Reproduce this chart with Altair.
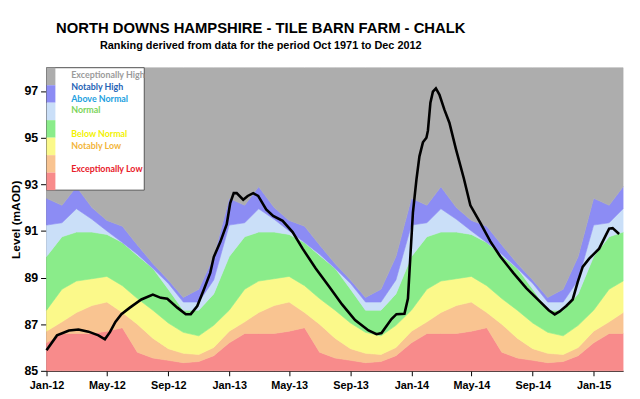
import altair as alt
import pandas as pd

# ---------------- data ----------------
# monthly ranking thresholds (upper edge of each band), Jan..Dec
red_top = [86.2, 86.6, 86.6, 86.6, 86.7, 86.85, 85.8, 85.55, 85.45, 85.35, 85.4, 85.65]
orange_top = [86.7, 87.1, 87.5, 87.8, 87.95, 87.5, 87.0, 86.4, 85.95, 85.75, 85.7, 86.0]
yellow_top = [87.6, 88.5, 88.85, 88.95, 89.05, 88.65, 88.1, 87.6, 87.05, 86.65, 86.5, 86.95]
green_top = [89.9, 90.75, 90.95, 90.95, 90.85, 90.5, 89.95, 89.4, 88.5, 87.6, 87.6, 88.3]
lblue_top = [91.25, 91.35, 91.95, 91.5, 91.0, 90.5, 90.0, 89.4, 88.75, 87.95, 87.95, 88.9]
blue_top = [92.4, 92.1, 92.9, 92.0, 91.45, 91.2, 90.4, 89.6, 88.9, 88.15, 88.5, 89.9]

categories = ["Exceptionally Low", "Notably Low", "Below Normal", "Normal",
              "Above Normal", "Notably High", "Exceptionally High"]
band_colors = ["#F88B8B", "#F9C491", "#FBF98A", "#8AEC8A", "#CADFF8", "#8C8CF4", "#ADADAD"]

line_dates = [
    "2012-01-01", "2012-01-22", "2012-02-15", "2012-03-05", "2012-03-25", "2012-04-14",
    "2012-04-27", "2012-05-07", "2012-05-18", "2012-05-30", "2012-06-16", "2012-07-09",
    "2012-08-01", "2012-08-17", "2012-08-30", "2012-09-19", "2012-10-06", "2012-10-16",
    "2012-10-29", "2012-11-11", "2012-11-24", "2012-12-01", "2012-12-14", "2012-12-27",
    "2013-01-03", "2013-01-10", "2013-01-16", "2013-01-29", "2013-02-07", "2013-02-18",
    "2013-02-28", "2013-03-16", "2013-03-30", "2013-04-18", "2013-05-08", "2013-05-28",
    "2013-06-23", "2013-07-20", "2013-08-15", "2013-09-10", "2013-10-07", "2013-10-23",
    "2013-11-02", "2013-11-22", "2013-12-02", "2013-12-18", "2013-12-25", "2013-12-29",
    "2014-01-04", "2014-01-11", "2014-01-17", "2014-01-24", "2014-01-31", "2014-02-03",
    "2014-02-08", "2014-02-13", "2014-02-19", "2014-02-26", "2014-03-08", "2014-03-18",
    "2014-03-31", "2014-04-16", "2014-04-29", "2014-05-19", "2014-06-08", "2014-06-28",
    "2014-07-24", "2014-08-19", "2014-09-14", "2014-10-03", "2014-10-15", "2014-10-25",
    "2014-11-07", "2014-11-20", "2014-11-30", "2014-12-10", "2014-12-23", "2015-01-12",
    "2015-01-25", "2015-02-01", "2015-02-08", "2015-02-21",
]
line_levels = [
    85.88, 86.52, 86.73, 86.77, 86.68, 86.52,
    86.35, 86.66, 87.10, 87.43, 87.71, 88.06,
    88.27, 88.13, 88.09, 87.71, 87.43, 87.43,
    87.78, 88.48, 89.20, 89.88, 90.52, 91.29,
    92.20, 92.62, 92.62, 92.34, 92.50, 92.62,
    92.50, 91.92, 91.64, 91.43, 90.95, 90.24,
    89.40, 88.62, 87.85, 87.18, 86.73, 86.57,
    86.62, 87.22, 87.43, 87.45, 88.10, 89.60,
    91.80, 93.20, 94.20, 94.80, 95.00, 95.30,
    96.50, 96.97, 97.11, 96.85, 96.20, 95.64,
    94.52, 93.25, 92.10, 91.35, 90.55, 89.90,
    89.20, 88.55, 88.00, 87.60, 87.42, 87.55,
    87.78, 88.06, 88.80, 89.46, 89.81, 90.24,
    90.80, 91.10, 91.12, 90.87,
]

legend_slots = ["Exceptionally High", "Notably High", "Above Normal", "Normal", " ",
                "Below Normal", "Notably Low", "  ", "Exceptionally Low"]
legend_labels = ["Exceptionally High", "Notably High", "Above Normal", "Normal",
                 "Below Normal", "Notably Low", "Exceptionally Low"]
legend_text_colors = ["#9B9B9B", "#2563B5", "#22A0E0", "#7CD45A", "#F2F200", "#F2B53A", "#E8202A"]

y_ticks = [85, 87, 89, 91, 93, 95, 97]

# ---------------- tables ----------------
months = pd.date_range("2012-01-01", "2015-03-01", freq="MS")
rows = []
for m in months:
    k = m.month - 1
    edges = [85.0, red_top[k], orange_top[k], yellow_top[k], green_top[k],
             lblue_top[k], blue_top[k], 98.0]
    for j, c in enumerate(categories):
        rows.append({"date": m.strftime("%Y-%m-%d"), "cat": c, "lo": edges[j], "hi": edges[j + 1]})
bands = pd.DataFrame(rows)
line_df = pd.DataFrame({"date": line_dates, "level": line_levels})
legend_df = pd.DataFrame({"label": legend_labels})
strip_df = pd.DataFrame({"cat": categories[::-1]})
box_df = pd.DataFrame({"k": [0]})

# ---------------- scales ----------------
xscale = alt.Scale(type="utc",
                   domain=[alt.DateTime(year=2012, month=1, date=1, utc=True),
                           alt.DateTime(year=2015, month=3, date=1, utc=True)])
yscale = alt.Scale(domain=[85, 98], nice=False, zero=False)
x_tick_values = [alt.DateTime(year=y, month=mo, date=1, utc=True)
                 for y in (2012, 2013, 2014, 2015) for mo in (1, 5, 9)
                 if not (y == 2015 and mo > 1)]

xaxis = alt.Axis(values=x_tick_values, format="%b-%y", labelFontSize=11, tickSize=5,
                 labelPadding=4, labelFlush=False, title=None)
yaxis = alt.Axis(values=y_ticks, labelFontSize=12.5, tickSize=6, labelPadding=3,
                 title="Level (mAOD)", titleFontSize=12, titlePadding=1)

areas = alt.Chart(bands).mark_area(interpolate="linear", strokeWidth=0.6).encode(
    x=alt.X("date:T", scale=xscale, axis=xaxis),
    y=alt.Y("lo:Q", scale=yscale, axis=yaxis, stack=None),
    y2="hi:Q",
    color=alt.Color("cat:N", scale=alt.Scale(domain=categories, range=band_colors), legend=None),
    stroke=alt.Stroke("cat:N", scale=alt.Scale(domain=categories, range=band_colors), legend=None),
)

line = alt.Chart(line_df).mark_line(color="black", strokeWidth=2.6).encode(
    x=alt.X("date:T", scale=xscale),
    y=alt.Y("level:Q", scale=yscale, axis=None),
)

box = alt.Chart(box_df).mark_rect(fill="white", stroke="#555555", strokeWidth=1).encode(
    x=alt.value(0), x2=alt.value(99), y=alt.value(0), y2=alt.value(124)
)

strip = alt.Chart(strip_df).mark_rect().encode(
    x=alt.value(0), x2=alt.value(9),
    y=alt.Y("cat:N", scale=alt.Scale(domain=categories[::-1], range=[0, 124],
                                     paddingInner=0, paddingOuter=0), axis=None),
    color=alt.Color("cat:N", scale=alt.Scale(domain=categories, range=band_colors), legend=None),
)

legend_text = alt.Chart(legend_df).mark_text(
    align="left", baseline="middle", font="Lato", fontWeight="bold", fontSize=9
).encode(
    x=alt.value(25),
    y=alt.Y("label:N", scale=alt.Scale(domain=legend_slots, range=[7.5, 102.6], padding=0), axis=None),
    text=alt.Text("label:N"),
    color=alt.Color("label:N", scale=alt.Scale(domain=legend_labels, range=legend_text_colors), legend=None),
)

chart = alt.layer(areas, line, box, strip, legend_text).resolve_scale(
    y="independent", color="independent"
).properties(
    width=584, height=307,
    padding={"left": 39, "top": 58, "right": 9, "bottom": 22},
    autosize=alt.AutoSizeParams(type="none"),
    title=alt.TitleParams(
        text="NORTH DOWNS HAMPSHIRE  - TILE BARN FARM  - CHALK",
        subtitle="Ranking derived from data for the period Oct 1971 to Dec 2012",
        anchor="middle", dx=-75, offset=16,
        font="Liberation Sans", fontSize=15, fontWeight="bold", color="black",
        subtitleFont="Liberation Sans", subtitleFontSize=11,
        subtitleFontWeight="bold", subtitleColor="black", subtitlePadding=4,
    ),
).configure_axis(
    labelFont="Liberation Sans", labelFontWeight="bold", labelColor="black",
    titleFont="Liberation Sans", titleFontWeight="bold", titleColor="black",
    domainColor="black", tickColor="black", grid=False,
).configure_view(stroke=None)

chart.save("out.html", embed_options={"renderer": "svg", "actions": False})
